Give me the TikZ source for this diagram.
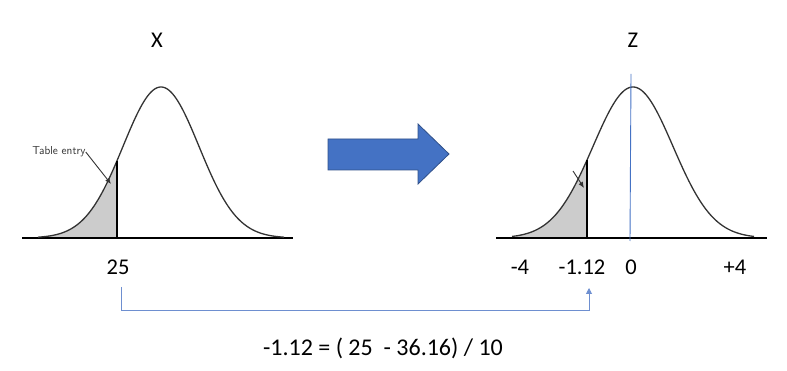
\documentclass[tikz,border=0pt]{standalone}
\usepackage{fontspec}
\setmainfont{Carlito}
\usetikzlibrary{arrows.meta}
\definecolor{bblue}{HTML}{4472C4}
\definecolor{bline}{HTML}{6E8FD0}
\tikzset{
  lbl/.style={inner sep=0pt, font=\fontsize{22.5}{25}\selectfont},
  curve/.style={line width=1.3pt, black!80},
  axis/.style={line width=1.3pt, black},
  shade/.style={fill=black!20},
}
\begin{document}
\begin{tikzpicture}[x=1pt,y=-1pt]
\useasboundingbox (0,0) rectangle (787,371);
% left distribution
\fill[shade] (40,238) -- plot[domain=40:117,samples=60] (\x,{238-151*exp(-0.5*((\x-161)/38)^2)}) -- (117,238) -- cycle;
\draw[axis] (22,238) -- (293,238);
\draw[curve] plot[domain=38:284,samples=150] (\x,{238-151*exp(-0.5*((\x-161)/38)^2)});
\draw[line width=1.2pt] (117,238) -- (117,{238-151*exp(-0.5*((117-161)/38)^2)});
\node[inner sep=0pt, font=\fontsize{11.5}{12}\selectfont\sffamily, text=black!80] (te) at (59,152) {Table entry};
\coordinate (tea) at (111,184);
\draw[-{Latex[length=6pt,width=5pt]}, line width=0.9pt, black!80] (te.east) -- (tea);
\node[lbl] (X) at (157,40) {X};
\node[lbl] (v25) at (118,267) {25};
% right distribution
\fill[shade] (516,238) -- plot[domain=516:587,samples=60] (\x,{238-151*exp(-0.5*((\x-633)/40)^2)}) -- (587,238) -- cycle;
\draw[axis] (496,238) -- (767,238);
\draw[curve] plot[domain=512:754,samples=150] (\x,{238-151*exp(-0.5*((\x-633)/40)^2)});
\draw[line width=1.2pt] (587,238) -- (587,{238-151*exp(-0.5*((587-633)/40)^2)});
\draw[bblue, line width=0.9pt] (631,74) -- (630,241);
\coordinate (sa) at (573,171);
\coordinate (sb) at (584,188);
\draw[-{Latex[length=6pt,width=5pt]}, line width=0.9pt, black!80] (sa) -- (sb);
\node[lbl] (Z) at (633,40) {Z};
\node[lbl] (m4) at (520,267) {-4};
\node[lbl] (m112) at (582,267) {-1.12};
\node[lbl] (z0) at (631,267) {0};
\node[lbl] (p4) at (735,267) {+4};
% big arrow
\draw[fill=bblue, draw=bblue!70!black, line width=0.8pt]
  (328,139) -- (418,139) -- (418,124) -- (449,154) -- (418,184) -- (418,170) -- (328,170) -- cycle;
% connector
\coordinate (c1) at (121,287);
\coordinate (c2) at (589,288);
\draw[bline, line width=0.9pt, -{Triangle[length=6pt,width=6pt]}] (c1) -- (121,310) -- (589,310) -- (c2);
\node[lbl, font=\fontsize{24}{26}\selectfont] (eq) at (383,348) {-1.12 = ( 25\ \ - 36.16) / 10};
\end{tikzpicture}
\end{document}
